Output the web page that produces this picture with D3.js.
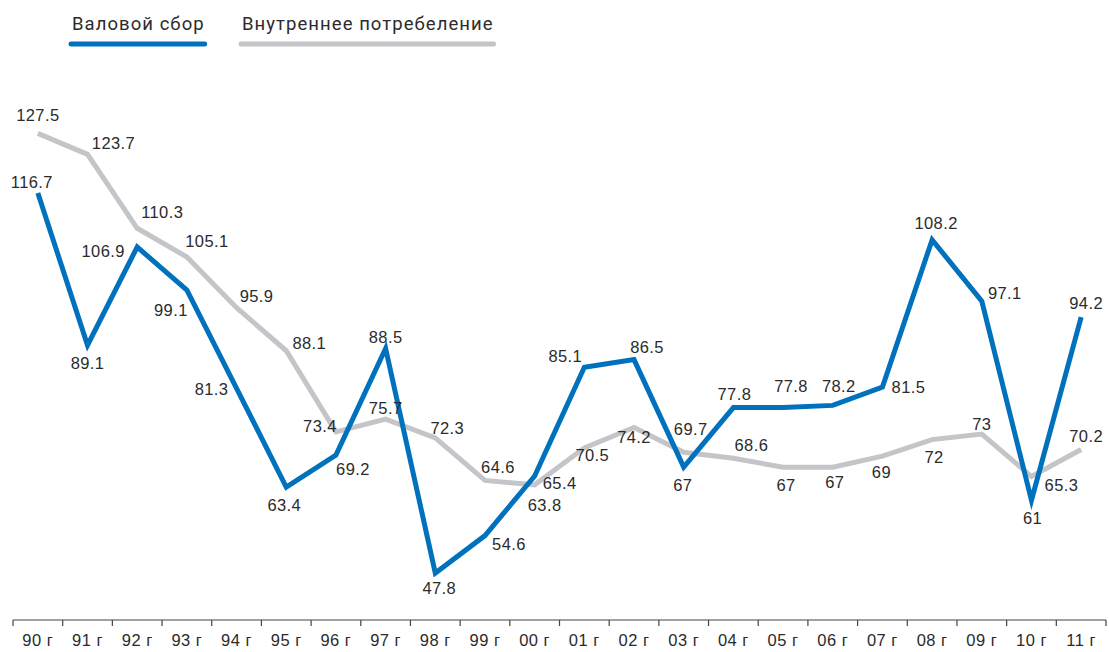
<!DOCTYPE html>
<html>
<head>
<meta charset="utf-8">
<script src="https://cdn.jsdelivr.net/npm/d3@7/dist/d3.min.js"></script>
<style>
    body { margin: 0; background: #fff; }
    svg { display: block; }
    .lbl { font-family: "Liberation Sans", Arial, sans-serif; font-size: 16.5px; fill: #2b2b2b; letter-spacing: 0.4px; }
    .legend text { font-family: Roboto, "Noto Sans", sans-serif; font-size: 18.5px; fill: #2b2b2b; letter-spacing: 1.05px; }
    .x.axis text { font-family: "Liberation Sans", Arial, sans-serif; font-size: 16.5px; fill: #2b2b2b; letter-spacing: 0.5px; }
</style>
</head>
<body>
<script>
"use strict";

// years shown on the axis
var years = ["90", "91", "92", "93", "94", "95", "96", "97", "98", "99", "00",
             "01", "02", "03", "04", "05", "06", "07", "08", "09", "10", "11"];

// Валовой сбор
var harvest = [116.7, 89.1, 106.9, 99.1, 81.3, 63.4, 69.2, 88.5, 47.8, 54.6, 65.4,
               85.1, 86.5, 67, 77.8, 77.8, 78.2, 81.5, 108.2, 97.1, 61, 94.2];

// Внутреннее потребеление
var consumption = [127.5, 123.7, 110.3, 105.1, 95.9, 88.1, 73.4, 75.7, 72.3, 64.6, 63.8,
                   70.5, 74.2, 69.7, 68.6, 67, 67, 69, 72, 73, 65.3, 70.2];

var seriesNames = ["Валовой сбор", "Внутреннее потребеление"];

// where each value label sits relative to its point (layout only)
var harvestLabelOffset = [[-6, -11], [0, 18], [-34, 4], [-16, 20], [-25, 1], [-2, 18], [17, 14],
    [0, -11], [4, 15], [24, 8], [25, 7], [-19, -11], [13, -13], [-1, 18], [1, -14], [8, -22],
    [6, -19], [26, 0], [4, -17], [23, -8], [1, 18], [5, -14]];
var consumptionLabelOffset = [[0, -18], [26, -11], [25, -16], [20, -16], [20, -12], [23, -8],
    [-16, -6], [0, -11], [12, -10], [13, -13], [10, 20], [8, 7], [0, 10], [7, -23], [18, -13],
    [3, 18], [2, 15], [-1, 16], [2, 17], [0, -10], [30, 9], [5, -13]];

var colors = ["#0071bc", "#c4c5c9"];

var width = 1109;
var height = 652;
var axisY = 620;

var svg = d3.select("body")
    .append("svg")
    .attr("width", width)
    .attr("height", height);

var x = d3.scaleBand().domain(years).range([13, 1106]).padding(0);
var y = d3.scaleLinear().domain([39.3, 140.8]).range([axisY, 60]);

function cx(i) { return x(years[i]) + x.bandwidth() / 2; }

// x axis
var xAxis = svg.append("g")
    .attr("class", "x axis")
    .attr("transform", "translate(0," + axisY + ")");

xAxis.append("line")
    .attr("x1", x.range()[0])
    .attr("x2", x.range()[1])
    .attr("stroke", "#444")
    .attr("stroke-width", 1.2);

var bounds = years.map(function(d) { return x(d); }).concat([x.range()[1]]);
xAxis.selectAll(".tick-mark")
    .data(bounds)
    .enter().append("line")
    .attr("class", "tick-mark")
    .attr("x1", function(d) { return d; })
    .attr("x2", function(d) { return d; })
    .attr("y1", 0)
    .attr("y2", 6)
    .attr("stroke", "#444")
    .attr("stroke-width", 1.2);

xAxis.selectAll(".tick-label")
    .data(years)
    .enter().append("text")
    .attr("class", "tick-label")
    .attr("x", function(d) { return x(d) + x.bandwidth() / 2; })
    .attr("y", 26)
    .attr("text-anchor", "middle")
    .text(function(d) { return d + " г"; });

var line = d3.line()
    .x(function(d, i) { return cx(i); })
    .y(function(d) { return y(d); });

// consumption under the harvest line
svg.append("path")
    .datum(consumption)
    .attr("fill", "none")
    .attr("stroke", colors[1])
    .attr("stroke-width", 5)
    .attr("stroke-linejoin", "miter")
    .attr("d", line);

svg.append("path")
    .datum(harvest)
    .attr("fill", "none")
    .attr("stroke", colors[0])
    .attr("stroke-width", 5)
    .attr("stroke-linejoin", "miter")
    .attr("d", line);

function addLabels(values, offsets) {
    svg.append("g").selectAll("text")
        .data(values)
        .enter().append("text")
        .attr("class", "lbl")
        .attr("x", function(d, i) { return cx(i) + offsets[i][0]; })
        .attr("y", function(d, i) { return y(d) + offsets[i][1]; })
        .attr("dy", "0.36em")
        .attr("text-anchor", "middle")
        .text(function(d) { return d; });
}

addLabels(consumption, consumptionLabelOffset);
addLabels(harvest, harvestLabelOffset);

// legend
var legendX = [72, 242];
var legend = svg.append("g").attr("class", "legend");
var items = legend.selectAll("g")
    .data(seriesNames)
    .enter().append("g");

items.append("text")
    .attr("x", function(d, i) { return legendX[i]; })
    .attr("y", 30)
    .text(function(d) { return d; })
    .each(function(d, i) {
        var w = this.getComputedTextLength();
        d3.select(this.parentNode).append("line")
            .attr("x1", legendX[i] - 1)
            .attr("x2", legendX[i] + w)
            .attr("y1", 44)
            .attr("y2", 44)
            .attr("stroke", colors[i])
            .attr("stroke-width", 5)
            .attr("stroke-linecap", "round");
    });
</script>
</body>
</html>
